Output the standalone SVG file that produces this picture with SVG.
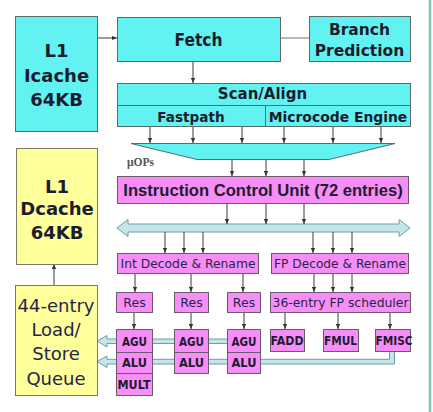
<svg xmlns="http://www.w3.org/2000/svg" width="433" height="412" viewBox="0 0 433 412">
  <style>
    .cy { fill: #62f2f2; stroke: #5a6a6a; stroke-width: 1; }
    .mg { fill: #f78ef7; stroke: #6a5a6a; stroke-width: 1; }
    .yl { fill: #ffff9c; stroke: #7a7a6a; stroke-width: 1; }
    .b  { font-family: "DejaVu Sans", Verdana, sans-serif; font-weight: bold; fill: #1c1c2e; text-anchor: middle; }
    .n  { font-family: "DejaVu Sans", Verdana, sans-serif; fill: #25254a; text-anchor: middle; }
    .ln { stroke: #3a3a3a; stroke-width: 1; fill: none; }
    .pipe { fill: #c4e6ea; stroke: #6f9ea4; stroke-width: 1; }
  </style>
  <defs>
    <marker id="ah" viewBox="0 0 6 6" refX="6" refY="3" markerWidth="5" markerHeight="5" markerUnits="userSpaceOnUse" orient="auto">
      <path d="M0,0.5 L6,3 L0,5.5 Z" fill="#333"/>
    </marker>
  </defs>

  <rect width="433" height="412" fill="#ffffff"/>
  <!-- frame edge on the right -->
  <line x1="430" y1="0" x2="430" y2="412" stroke="#86bfb2" stroke-width="2.5"/>

  <!-- result buses from the execution units back to the load/store queue -->
  <g id="result-buses">
    <path class="pipe" d="M97,341 L107,335.5 L107,339 L232,339 L232,343.5 L107,343.5 L107,347 Z"/>
    <path class="pipe" d="M97,361.5 L107,356 L107,359.3 L389.5,359.3 L389.5,350 L394.5,350 L394.5,364 L107,364 L107,367.5 Z"/>
  </g>

  <!-- dispatch bus -->
  <g id="dispatch-bus">
    <path class="pipe" d="M117,228 L128,219.5 L128,224 L399,224 L399,219.5 L410,228 L399,236.5 L399,232 L128,232 L128,236.5 Z"/>
  </g>

  <g id="connectors">
    <line class="ln" x1="97" y1="38" x2="117" y2="38" marker-end="url(#ah)"/>
    <line x1="280" y1="38" x2="309" y2="38" stroke="#888" stroke-width="1.2"/>
    <line class="ln" x1="193" y1="61" x2="193" y2="83" marker-end="url(#ah)"/>
    <!-- scan/align to decoder funnel -->
    <line class="ln" x1="150" y1="126" x2="150" y2="143" marker-end="url(#ah)"/>
    <line class="ln" x1="193" y1="126" x2="193" y2="143" marker-end="url(#ah)"/>
    <line class="ln" x1="242" y1="126" x2="242" y2="143" marker-end="url(#ah)"/>
    <line class="ln" x1="284" y1="126" x2="284" y2="143" marker-end="url(#ah)"/>
    <line class="ln" x1="333" y1="126" x2="333" y2="143" marker-end="url(#ah)"/>
    <line class="ln" x1="381" y1="126" x2="381" y2="143" marker-end="url(#ah)"/>
    <!-- funnel to ICU -->
    <line class="ln" x1="232" y1="159" x2="232" y2="176" marker-end="url(#ah)"/>
    <line class="ln" x1="266" y1="159" x2="266" y2="176" marker-end="url(#ah)"/>
    <line class="ln" x1="304" y1="159" x2="304" y2="176" marker-end="url(#ah)"/>
    <!-- ICU to bus -->
    <line class="ln" x1="227" y1="203" x2="227" y2="224" marker-end="url(#ah)"/>
    <line class="ln" x1="266" y1="203" x2="266" y2="224" marker-end="url(#ah)"/>
    <line class="ln" x1="304" y1="203" x2="304" y2="224" marker-end="url(#ah)"/>
    <!-- bus to decoders -->
    <line class="ln" x1="165" y1="232" x2="165" y2="253" marker-end="url(#ah)"/>
    <line class="ln" x1="184" y1="232" x2="184" y2="253" marker-end="url(#ah)"/>
    <line class="ln" x1="203" y1="232" x2="203" y2="253" marker-end="url(#ah)"/>
    <line class="ln" x1="313" y1="232" x2="313" y2="253" marker-end="url(#ah)"/>
    <line class="ln" x1="333" y1="232" x2="333" y2="253" marker-end="url(#ah)"/>
    <line class="ln" x1="352" y1="232" x2="352" y2="253" marker-end="url(#ah)"/>
    <!-- decoders to schedulers -->
    <line class="ln" x1="135" y1="273" x2="135" y2="292" marker-end="url(#ah)"/>
    <line class="ln" x1="191" y1="273" x2="191" y2="292" marker-end="url(#ah)"/>
    <line class="ln" x1="243" y1="273" x2="243" y2="292" marker-end="url(#ah)"/>
    <line class="ln" x1="314" y1="273" x2="314" y2="292" marker-end="url(#ah)"/>
    <line class="ln" x1="333" y1="273" x2="333" y2="292" marker-end="url(#ah)"/>
    <line class="ln" x1="352" y1="273" x2="352" y2="292" marker-end="url(#ah)"/>
    <!-- schedulers to units -->
    <line class="ln" x1="134" y1="312" x2="134" y2="329" marker-end="url(#ah)"/>
    <line class="ln" x1="191" y1="312" x2="191" y2="329" marker-end="url(#ah)"/>
    <line class="ln" x1="244" y1="312" x2="244" y2="329" marker-end="url(#ah)"/>
    <line class="ln" x1="285" y1="312" x2="285" y2="329" marker-end="url(#ah)"/>
    <line class="ln" x1="338" y1="312" x2="338" y2="329" marker-end="url(#ah)"/>
    <line class="ln" x1="390" y1="312" x2="390" y2="329" marker-end="url(#ah)"/>
    <!-- load/store queue to data cache -->
    <line class="ln" x1="54" y1="285" x2="54" y2="264" marker-end="url(#ah)"/>
  </g>

  <g id="icache">
    <rect class="cy" x="15.5" y="16.5" width="82" height="115"/>
    <text class="b" x="56.5" y="57" font-size="18">L1</text>
    <text class="b" x="56.5" y="82" font-size="18">Icache</text>
    <text class="b" x="56.5" y="106" font-size="18">64KB</text>
  </g>

  <g id="fetch">
    <rect class="cy" x="117.5" y="17.5" width="163" height="44"/>
    <text class="b" x="198.5" y="46" font-size="17" textLength="48" lengthAdjust="spacingAndGlyphs">Fetch</text>
  </g>

  <g id="branch-prediction">
    <rect class="cy" x="309.5" y="16.5" width="101" height="45"/>
    <text class="b" x="359.5" y="34.5" font-size="15.5">Branch</text>
    <text class="b" x="359.5" y="55.5" font-size="15.5">Prediction</text>
  </g>

  <g id="scan-align">
    <rect class="cy" x="117.5" y="83.5" width="293" height="43"/>
    <line x1="117.5" y1="105.5" x2="410.5" y2="105.5" stroke="#5a6a6a"/>
    <line x1="265.5" y1="105.5" x2="265.5" y2="126.5" stroke="#5a6a6a"/>
    <text class="b" x="262.5" y="99" font-size="15">Scan/Align</text>
    <text class="b" x="191" y="121.5" font-size="13.6">Fastpath</text>
    <text class="b" x="338" y="121.5" font-size="13.9">Microcode Engine</text>
  </g>

  <g id="uop-funnel">
    <path class="cy" d="M131,143.5 L395,143.5 L329,159.5 L197,159.5 Z"/>
    <text x="127" y="165.5" font-family="'Liberation Serif', 'Times New Roman', serif" font-weight="bold" font-size="11.5" fill="#555">μOPs</text>
  </g>

  <g id="icu">
    <rect class="mg" x="117.5" y="176.5" width="291" height="27"/>
    <text x="263" y="196" font-family="'Liberation Sans', Arial, sans-serif" font-weight="bold" font-size="16.6" fill="#1c1c2e" text-anchor="middle">Instruction Control Unit (72 entries)</text>
  </g>

  <g id="dcache">
    <rect class="yl" x="16.5" y="148.5" width="81" height="116"/>
    <text class="b" x="57" y="193" font-size="18">L1</text>
    <text class="b" x="57" y="215" font-size="18">Dcache</text>
    <text class="b" x="57" y="239" font-size="18">64KB</text>
  </g>

  <g id="int-decode">
    <rect class="mg" x="117.5" y="253.5" width="141" height="20"/>
    <text class="n" x="188" y="268" font-size="12.8" textLength="135" lengthAdjust="spacingAndGlyphs">Int Decode &amp; Rename</text>
  </g>

  <g id="fp-decode">
    <rect class="mg" x="271.5" y="253.5" width="137" height="20"/>
    <text class="n" x="340" y="268" font-size="12.8" textLength="132" lengthAdjust="spacingAndGlyphs">FP Decode &amp; Rename</text>
  </g>

  <g id="res-1">
    <rect class="mg" x="116.5" y="292.5" width="36" height="20"/>
    <text class="n" x="134.5" y="306.5" font-size="12.5">Res</text>
  </g>
  <g id="res-2">
    <rect class="mg" x="174.5" y="292.5" width="34" height="20"/>
    <text class="n" x="191.5" y="306.5" font-size="12.5">Res</text>
  </g>
  <g id="res-3">
    <rect class="mg" x="227.5" y="292.5" width="33" height="20"/>
    <text class="n" x="244" y="306.5" font-size="12.5">Res</text>
  </g>

  <g id="fp-scheduler">
    <rect class="mg" x="270.5" y="292.5" width="140" height="20"/>
    <text class="n" x="340.5" y="307" font-size="12.8" textLength="136" lengthAdjust="spacingAndGlyphs">36-entry FP scheduler</text>
  </g>

  <g id="int-unit-1">
    <rect class="mg" x="116.5" y="329.5" width="36" height="66"/>
    <line x1="116.5" y1="352.5" x2="152.5" y2="352.5" stroke="#6a5a6a"/>
    <line x1="116.5" y1="373.5" x2="152.5" y2="373.5" stroke="#6a5a6a"/>
    <text class="b" x="134.5" y="345.5" font-size="12" textLength="25" lengthAdjust="spacingAndGlyphs">AGU</text>
    <text class="b" x="134.5" y="367" font-size="12" textLength="25" lengthAdjust="spacingAndGlyphs">ALU</text>
    <text class="b" x="134" y="389" font-size="12" textLength="33" lengthAdjust="spacingAndGlyphs">MULT</text>
  </g>
  <g id="int-unit-2">
    <rect class="mg" x="174.5" y="329.5" width="34" height="44"/>
    <line x1="174.5" y1="352.5" x2="208.5" y2="352.5" stroke="#6a5a6a"/>
    <text class="b" x="191.5" y="345.5" font-size="12" textLength="25" lengthAdjust="spacingAndGlyphs">AGU</text>
    <text class="b" x="191.5" y="367" font-size="12" textLength="25" lengthAdjust="spacingAndGlyphs">ALU</text>
  </g>
  <g id="int-unit-3">
    <rect class="mg" x="227.5" y="329.5" width="33" height="44"/>
    <line x1="227.5" y1="352.5" x2="260.5" y2="352.5" stroke="#6a5a6a"/>
    <text class="b" x="244" y="345.5" font-size="12" textLength="25" lengthAdjust="spacingAndGlyphs">AGU</text>
    <text class="b" x="244" y="367" font-size="12" textLength="25" lengthAdjust="spacingAndGlyphs">ALU</text>
  </g>

  <g id="fadd">
    <rect class="mg" x="270.5" y="329.5" width="34" height="22"/>
    <text class="b" x="287" y="345" font-size="12" textLength="33" lengthAdjust="spacingAndGlyphs">FADD</text>
  </g>
  <g id="fmul">
    <rect class="mg" x="323.5" y="329.5" width="35" height="22"/>
    <text class="b" x="340.5" y="345" font-size="12" textLength="33" lengthAdjust="spacingAndGlyphs">FMUL</text>
  </g>
  <g id="fmisc">
    <rect class="mg" x="375.5" y="329.5" width="35" height="22"/>
    <text class="b" x="394" y="345" font-size="12" textLength="37" lengthAdjust="spacingAndGlyphs">FMISC</text>
  </g>

  <g id="load-store-queue">
    <rect class="yl" x="15.5" y="285.5" width="82" height="110"/>
    <text class="n" x="56" y="312" font-size="18" fill="#222">44-entry</text>
    <text class="n" x="56" y="336" font-size="18" fill="#222">Load/</text>
    <text class="n" x="56" y="360" font-size="18" fill="#222">Store</text>
    <text class="n" x="56" y="385" font-size="18" fill="#222">Queue</text>
  </g>
</svg>
